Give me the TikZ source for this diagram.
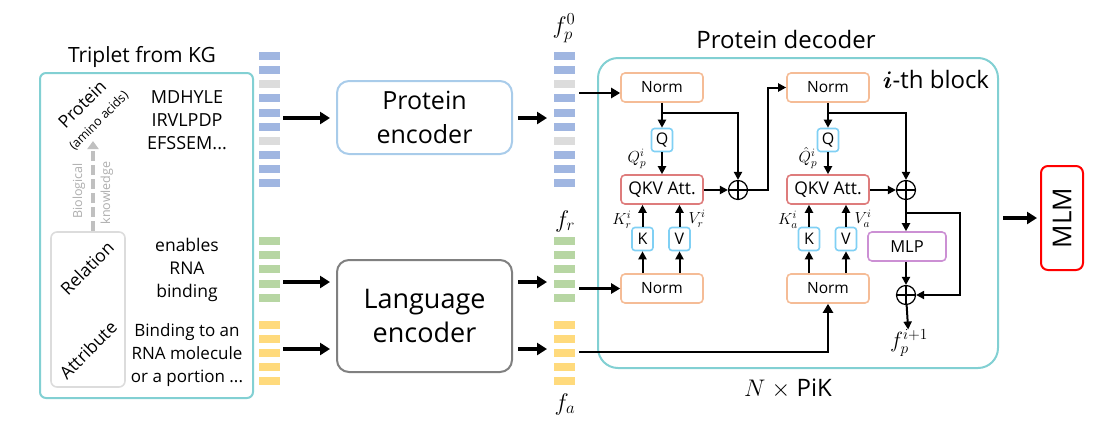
\RequirePackage{fix-cm}
\documentclass[tikz,border=0pt]{standalone}
\usepackage{amsmath}
\usepackage{fontspec}
\setmainfont{Open Sans}
\usetikzlibrary{arrows.meta, positioning, calc}
\definecolor{KGTeal}{HTML}{82D0D3}
\definecolor{TokBlue}{HTML}{A0B6E1}
\definecolor{TokGray}{HTML}{DCDCDC}
\definecolor{TokGreen}{HTML}{B7D6A3}
\definecolor{TokYellow}{HTML}{FFDA7C}
\definecolor{EncBlue}{HTML}{A9CCEA}
\definecolor{EncGray}{HTML}{808080}
\definecolor{NormOrange}{HTML}{F5BC96}
\definecolor{QKVBlue}{HTML}{80D0F4}
\definecolor{AttRed}{HTML}{DE7C7C}
\definecolor{MLPPurple}{HTML}{CC90D4}
\definecolor{BioGray}{HTML}{C0C0C0}

\begin{document}
\begin{tikzpicture}[
  x=1pt, y=-1pt,
  fs/.style={font=\fontsize{#1}{#1}\selectfont},
  tealbox/.style={draw=KGTeal, line width=2pt},
  encbox/.style={rectangle, rounded corners=12pt, line width=2pt, minimum width=175pt, align=center},
  normbox/.style={rectangle, draw=NormOrange, line width=1.6pt, rounded corners=4pt, minimum width=82pt, minimum height=29pt, fs=15.5},
  attbox/.style={rectangle, draw=AttRed, line width=1.6pt, rounded corners=4pt, minimum width=82pt, minimum height=29pt, fs=17.5},
  projbox/.style={rectangle, draw=QKVBlue, line width=1.6pt, rounded corners=3pt, minimum width=21pt, minimum height=23pt, inner sep=0pt, fs=16},
  plus/.style={circle, draw, line width=1.2pt, minimum size=19pt, inner sep=0pt,
    path picture={\draw[line width=1.2pt] (path picture bounding box.north) -- (path picture bounding box.south)
      (path picture bounding box.west) -- (path picture bounding box.east);}},
  lbl/.style={inner sep=0pt, fs=16},
  flbl/.style={inner sep=1pt, fs=24},
  bigarrow/.style={-{Triangle[length=10pt, width=12pt]}, line width=4pt},
  medarrow/.style={-{Triangle[length=9pt, width=10pt]}, line width=2.6pt},
  arrow/.style={-{Triangle[length=8pt, width=8pt]}, line width=2pt}
]
\useasboundingbox (0,0) rectangle (1109,445);

% triplet from the KG
\node[fs=21] (kgtitle) at (142,57) {Triplet from KG};
\node[tealbox, rectangle, rounded corners=6pt, minimum width=213pt, minimum height=325pt] (kg) at (146.5,235.5) {};
\node[draw=TokGray, line width=1.6pt, rounded corners=6pt, minimum width=74pt, minimum height=155pt] (relbox) at (88,309.5) {};
\node[rotate=45, fs=17.5] (prot) at (82,104) {Protein};
\node[rotate=45, fs=12.5] (amino) at (99,121) {(amino acids)};
\node[rotate=45, fs=17.5] (rel) at (87,268) {Relation};
\node[rotate=45, fs=17.5] (attr) at (88,350) {Attribute};
\coordinate (bioend) at (93,141);
\draw[BioGray, line width=4pt, dash pattern=on 10pt off 4pt, -{Triangle[length=8pt, width=11pt]}] (bioend |- relbox.north) -- (bioend);
\node[rotate=90, text=BioGray!90!black, fs=12.5] (bio) at (79,191) {Biological};
\node[rotate=90, text=BioGray!90!black, fs=12.5] (know) at (107,193) {knowledge};
\node[align=center, font=\fontsize{18}{23}\selectfont] (seq) at (187,120) {MDHYLE\\IRVLPDP\\EFSSEM...};
\node[align=center, font=\fontsize{17.5}{23}\selectfont] (reltxt) at (187,270) {enables\\RNA\\binding};
\node[align=center, font=\fontsize{17}{23}\selectfont] (attrtxt) at (187,355) {Binding to an\\RNA molecule\\or a portion ...};

% token columns
\foreach \xx in {259,554} {
  \foreach \c [count=\k from 0] in {TokBlue,TokBlue,TokGray,TokBlue,TokBlue,TokBlue,TokGray,TokBlue,TokBlue,TokBlue}
    \fill[\c] (\xx,52+14.15*\k) rectangle ++(21,8);
  \foreach \k in {0,...,4} {
    \fill[TokGreen] (\xx,237+14.2*\k) rectangle ++(21,8);
    \fill[TokYellow] (\xx,321+14*\k) rectangle ++(21,8);
  }
}
\node[flbl] (fp) at (564,28) {$f_p^0$};
\node[flbl] (fr) at (565,221) {$f_r$};
\node[flbl] (fa) at (565,404) {$f_a$};

% encoders
\node[encbox, draw=EncBlue, minimum height=73pt, font=\fontsize{25}{34}\selectfont] (penc) at (424.5,117.5) {Protein\\encoder};
\node[encbox, draw=EncGray, minimum height=112pt, font=\fontsize{27}{34}\selectfont] (lenc) at (424.5,316) {Language\\encoder};
\coordinate (pin) at (283,118);
\coordinate (rin) at (283,282);
\coordinate (ain) at (283,349);
\coordinate (pout) at (547,118);
\coordinate (rout) at (547,282);
\coordinate (aout) at (547,349);
\draw[bigarrow, shorten >=6pt] (pin) -- (pin -| penc.west);
\draw[bigarrow, shorten >=6pt] (rin) -- (rin -| lenc.west);
\draw[bigarrow, shorten >=6pt] (ain) -- (ain -| lenc.west);
\draw[bigarrow, shorten <=5pt] (pout -| penc.east) -- (pout);
\draw[bigarrow, shorten <=5pt] (rout -| lenc.east) -- (rout);
\draw[bigarrow, shorten <=5pt] (aout -| lenc.east) -- (aout);

% protein decoder
\node[tealbox, rectangle, rounded corners=20pt, minimum width=400pt, minimum height=310pt] (dec) at (798,213) {};
\node[fs=24] (dectitle) at (786,39) {Protein decoder};
\node[fs=24] (blk) at (936,79) {$\boldsymbol{i}$-th block};
\node[fs=24] (npik) at (788,389) {$N$ $\times$ PiK};

\node[normbox] (norm1) at (662,87.5) {Norm};
\node[projbox] (q1) at (662,140) {Q};
\node[attbox] (qkv1) at (662,189.5) {QKV Att.};
\node[projbox] (k1) at (642.5,239) {K};
\node[projbox] (v1) at (679.5,239) {V};
\node[normbox] (norm3) at (662,288.5) {Norm};
\node[plus] (plus1) at (738,190) {};

\node[normbox] (norm2) at (828,87.5) {Norm};
\node[projbox] (q2) at (828,140) {Q};
\node[attbox] (qkv2) at (828,189.5) {QKV Att.};
\node[projbox] (k2) at (809,239) {K};
\node[projbox] (v2) at (846,239) {V};
\node[normbox] (norm4) at (828,288.5) {Norm};
\node[plus] (plus2) at (906,190) {};
\node[rectangle, draw=MLPPurple, line width=1.6pt, rounded corners=4pt, minimum width=78pt, minimum height=29pt, fs=16.5] (mlp) at (907,246.5) {MLP};
\node[plus] (plus3) at (906,295) {};
\node[flbl, fs=22, inner sep=0pt] (fnext) at (909,343) {$f_p^{i+1}$};

\node[lbl] (qp) at (637,159) {$Q_p^i$};
\node[lbl] (qhat) at (808,158) {$\hat{Q}_p^i$};
\node[lbl] (kr) at (622,220) {$K_r^i$};
\node[lbl] (vr) at (697,219) {$V_r^i$};
\node[lbl] (ka) at (788,220) {$K_a^i$};
\node[lbl] (va) at (863,219) {$V_a^i$};

% inputs into the block
\coordinate (fpin) at (579,93);
\coordinate (frin) at (579,288.5);
\coordinate (fain) at (579,352);
\draw[medarrow] (fpin) -- (fpin -| norm1.west);
\draw[medarrow] (frin) -- (norm3.west);
\draw[medarrow] (fain) -| (norm4.south);

% first attention
\draw[arrow] (norm1) -- (q1);
\draw[arrow] ($(norm1.south)+(0,10)$) -| (plus1.north);
\draw[arrow] (q1) -- (qkv1);
\draw[arrow] (qkv1.east |- plus1) -- (plus1);
\draw[arrow] (norm3.north -| k1) -- (k1);
\draw[arrow] (norm3.north -| v1) -- (v1);
\draw[arrow] (k1) -- (k1 |- qkv1.south);
\draw[arrow] (v1) -- (v1 |- qkv1.south);
\draw[arrow] (plus1.east) -- ++(20,0) |- (norm2.west);

% second attention
\draw[arrow] (norm2) -- (q2);
\draw[arrow] ($(norm2.south)+(0,10)$) -| (plus2.north);
\draw[arrow] (q2) -- (qkv2);
\draw[arrow] (qkv2.east |- plus2) -- (plus2);
\draw[arrow] (norm4.north -| k2) -- (k2);
\draw[arrow] (norm4.north -| v2) -- (v2);
\draw[arrow] (k2) -- (k2 |- qkv2.south);
\draw[arrow] (v2) -- (v2 |- qkv2.south);

% feed forward
\draw[arrow] (plus2) -- (plus2 |- mlp.north);
\draw[arrow] ($(plus2.south)+(0,13)$) -- ++(54,0) |- (plus3.east);
\draw[arrow] (mlp.south -| plus3) -- (plus3);
\draw[arrow] (plus3) -- (fnext);

% masked language modelling head
\node[rectangle, draw=red, line width=2pt, rounded corners=7pt, rotate=90, minimum width=104pt, minimum height=42pt, fs=26] (mlm) at (1062,218) {MLM};
\draw[bigarrow, shorten <=4pt, shorten >=3pt] (dec.east |- mlm) -- (mlm);
\end{tikzpicture}
\end{document}
